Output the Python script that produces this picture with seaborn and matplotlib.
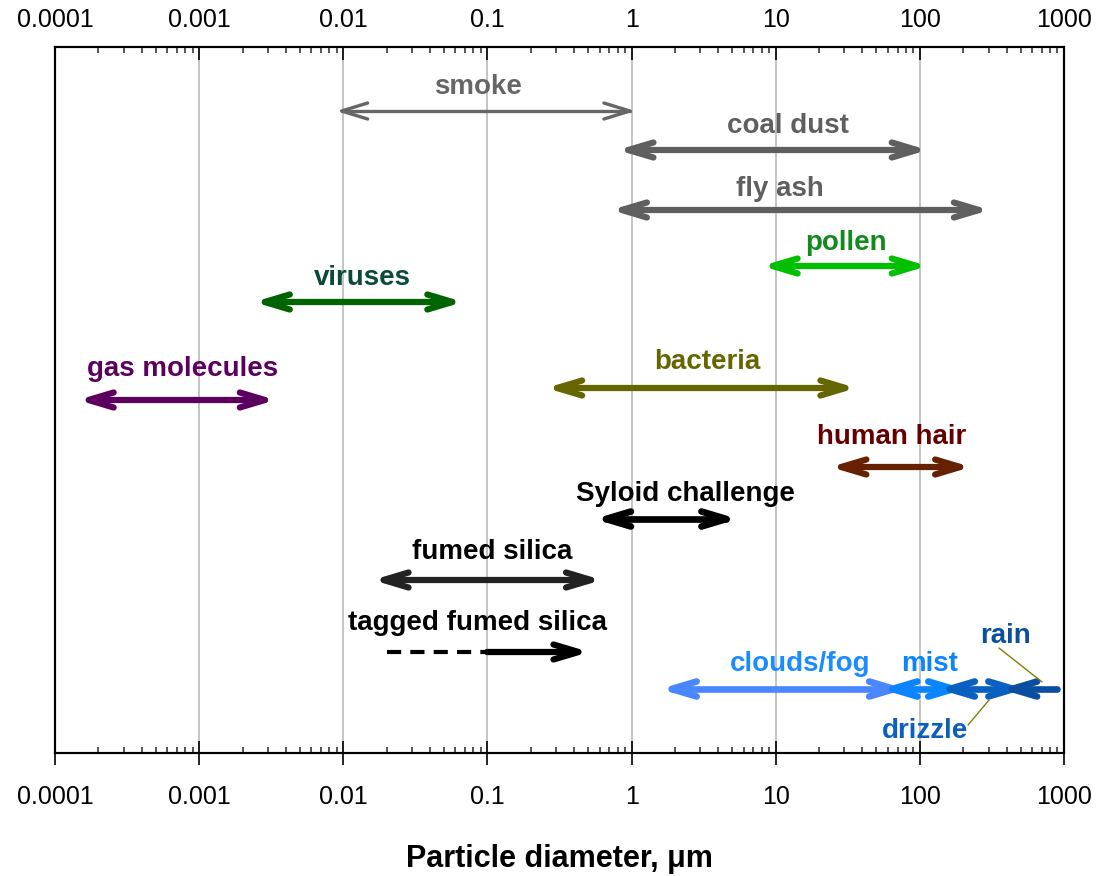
import matplotlib
matplotlib.use("Agg")
import matplotlib.pyplot as plt
import seaborn as sns
import pandas as pd
from matplotlib.ticker import LogLocator, FuncFormatter, NullFormatter, FixedLocator

# Particle size ranges (micrometres)
names = ["smoke", "coal dust", "fly ash", "pollen", "viruses", "gas molecules",
         "bacteria", "human hair", "Syloid challenge", "fumed silica",
         "tagged fumed silica", "clouds/fog", "mist", "drizzle", "rain"]
size_low = [0.01, 1, 0.9, 10, 0.003, 0.00018, 0.32, 30, 0.7, 0.02,
            0.02, 2, 68, 170, 460]
size_high = [1, 100, 270, 100, 0.06, 0.003, 32, 200, 4.8, 0.55,
             0.45, 70, 180, 470, 900]
tagged_solid_from = 0.1          # tagged fumed silica: dashed below, solid above
decades = [0.0001, 0.001, 0.01, 0.1, 1, 10, 100, 1000]

# Layout: row of each arrow, label anchor (x in micrometres, row), colours
layout = {
    "smoke":               dict(row=64,  lx=0.086, ly=40,  arrow="#666666", text="#666666", lw=2.4, thin=True),
    "coal dust":           dict(row=103, lx=12.2,  ly=79,  arrow="#5f5f5f", text="#5f5f5f", lw=4.5),
    "fly ash":             dict(row=163, lx=10.7,  ly=142, arrow="#5f5f5f", text="#5f5f5f", lw=4.5),
    "pollen":              dict(row=219, lx=30.7,  ly=196, arrow="#00c000", text="#118b1b", lw=4.5),
    "viruses":             dict(row=255, lx=0.0135, ly=231, arrow="#006400", text="#0b4a3a", lw=4.5),
    "gas molecules":       dict(row=353, lx=0.00077, ly=322, arrow="#5c0060", text="#5c0060", lw=4.5),
    "bacteria":            dict(row=341, lx=3.34,  ly=315, arrow="#666600", text="#666600", lw=4.5),
    "human hair":          dict(row=420, lx=64,    ly=390, arrow="#662200", text="#660000", lw=4.5),
    "Syloid challenge":    dict(row=472, lx=2.35,  ly=447, arrow="#000000", text="#000000", lw=4.8),
    "fumed silica":        dict(row=533, lx=0.108, ly=505, arrow="#222222", text="#000000", lw=4.5),
    "tagged fumed silica": dict(row=605, lx=0.085, ly=576, arrow="#000000", text="#000000", lw=4.5),
    "clouds/fog":          dict(row=642, lx=14.7,  ly=617, arrow="#4a86ff", text="#1a8cff", lw=4.8),
    "mist":                dict(row=642, lx=117.6, ly=617, arrow="#0a84ff", text="#0a84ff", lw=4.8),
    "drizzle":             dict(row=642, lx=108.6, ly=684, arrow="#0a60c0", text="#0a5fbf", lw=4.8),
    "rain":                dict(row=642, lx=390,   ly=589, arrow="#0a4f9f", text="#0a4f9f", lw=4.8),
}
# leader lines from label to arrow: (x0, y0, x1, y1)
leaders = {"rain": (354, 601, 704, 635), "drizzle": (302, 653, 216, 678)}

sns.set_theme(style="white")
plt.rcParams["font.family"] = ["Liberation Sans", "DejaVu Sans"]

DPI = 100
fig = plt.figure(figsize=(11.02, 8.76), dpi=DPI)
ax = fig.add_axes([55 / 1102, 1 - 753 / 876, (1064 - 55) / 1102, (753 - 47) / 876])
ax.set_xscale("log")
ax.set_xlim(decades[0], decades[-1])
ax.set_ylim(706, 0)
ax.set_yticks([])

for x in decades[1:-1]:
    ax.axvline(x, color="#c4c4c4", lw=1.4, zorder=0)


def draw_range(x_from, x_to, y, color, lw, head_from, head_to, thin=False, z=3):
    """Horizontal range arrow with chevron heads; heads sized in pixels."""
    to_px = ax.transData.transform
    to_data = ax.transData.inverted().transform
    L, W = (26, 8) if thin else (25, 7.5)
    inset = lw * DPI / 72 / 2
    (p0x, py), (p1x, _) = to_px([(x_from, y), (x_to, y)])
    d = 1 if p1x > p0x else -1
    if head_from:
        p0x -= d * inset
    if head_to:
        p1x += -d * inset
    kw = dict(color=color, lw=lw, solid_capstyle="round", solid_joinstyle="round", zorder=z)
    shaft = to_data([(p0x, py), (p1x, py)])
    ax.plot(shaft[:, 0], shaft[:, 1], **kw)
    for tip, sgn, on in ((p0x, -d, head_from), (p1x, d, head_to)):
        if not on:
            continue
        pts = to_data([(tip - sgn * L, py + W), (tip, py), (tip - sgn * L, py - W)])
        ax.plot(pts[:, 0], pts[:, 1], **kw)


for name, lo, hi in zip(names, size_low, size_high):
    st = layout[name]
    y = st["row"]
    if name == "tagged fumed silica":
        seg = pd.DataFrame({"d": [lo, tagged_solid_from], "r": [y, y]})
        sns.lineplot(data=seg, x="d", y="r", ax=ax, color=st["arrow"], lw=3.0,
                     linestyle=(0, (3.4, 2.2)), zorder=3)
        draw_range(tagged_solid_from, hi, y, st["arrow"], st["lw"], False, True)
    elif name == "rain":
        draw_range(lo, hi, y, st["arrow"], st["lw"], True, False)
    else:
        draw_range(lo, hi, y, st["arrow"], st["lw"], True, True, thin=st.get("thin", False))
    ax.text(st["lx"], st["ly"], name, color=st["text"], fontsize=20, fontweight="bold",
            ha="center", va="center", zorder=5)

for name, (x0, y0, x1, y1) in leaders.items():
    ax.plot([x0, x1], [y0, y1], color="#808000", lw=1.0, zorder=6)

fmt = FuncFormatter(lambda v, p: f"{v:g}")
ax.xaxis.set_major_locator(FixedLocator(decades))
ax.xaxis.set_minor_locator(LogLocator(base=10, subs=range(2, 10), numticks=50))
ax.xaxis.set_major_formatter(fmt)
ax.xaxis.set_minor_formatter(NullFormatter())
ax.tick_params(axis="x", which="major", direction="inout", length=17, width=1.2,
               labelsize=18, pad=14.5, colors="black", bottom=True, top=False)
ax.tick_params(axis="x", which="minor", direction="in", length=4.5, width=1.1,
               bottom=True, top=False)

top = ax.twiny()
top.set_xscale("log")
top.set_xlim(ax.get_xlim())
top.xaxis.set_major_locator(FixedLocator(decades))
top.xaxis.set_minor_locator(LogLocator(base=10, subs=range(2, 10), numticks=50))
top.xaxis.set_major_formatter(fmt)
top.xaxis.set_minor_formatter(NullFormatter())
top.tick_params(axis="x", which="major", direction="in", length=9.5, width=1.2,
                labelsize=18, pad=11, colors="black")
top.tick_params(axis="x", which="minor", direction="in", length=4.5, width=1.1)

for a in (ax, top):
    for sp in a.spines.values():
        sp.set_color("black")
        sp.set_linewidth(1.5)

ax.set_xlabel("Particle diameter, μm", fontsize=22, fontweight="bold", labelpad=25,
              color="black")

fig.savefig("out.png", dpi=DPI)
